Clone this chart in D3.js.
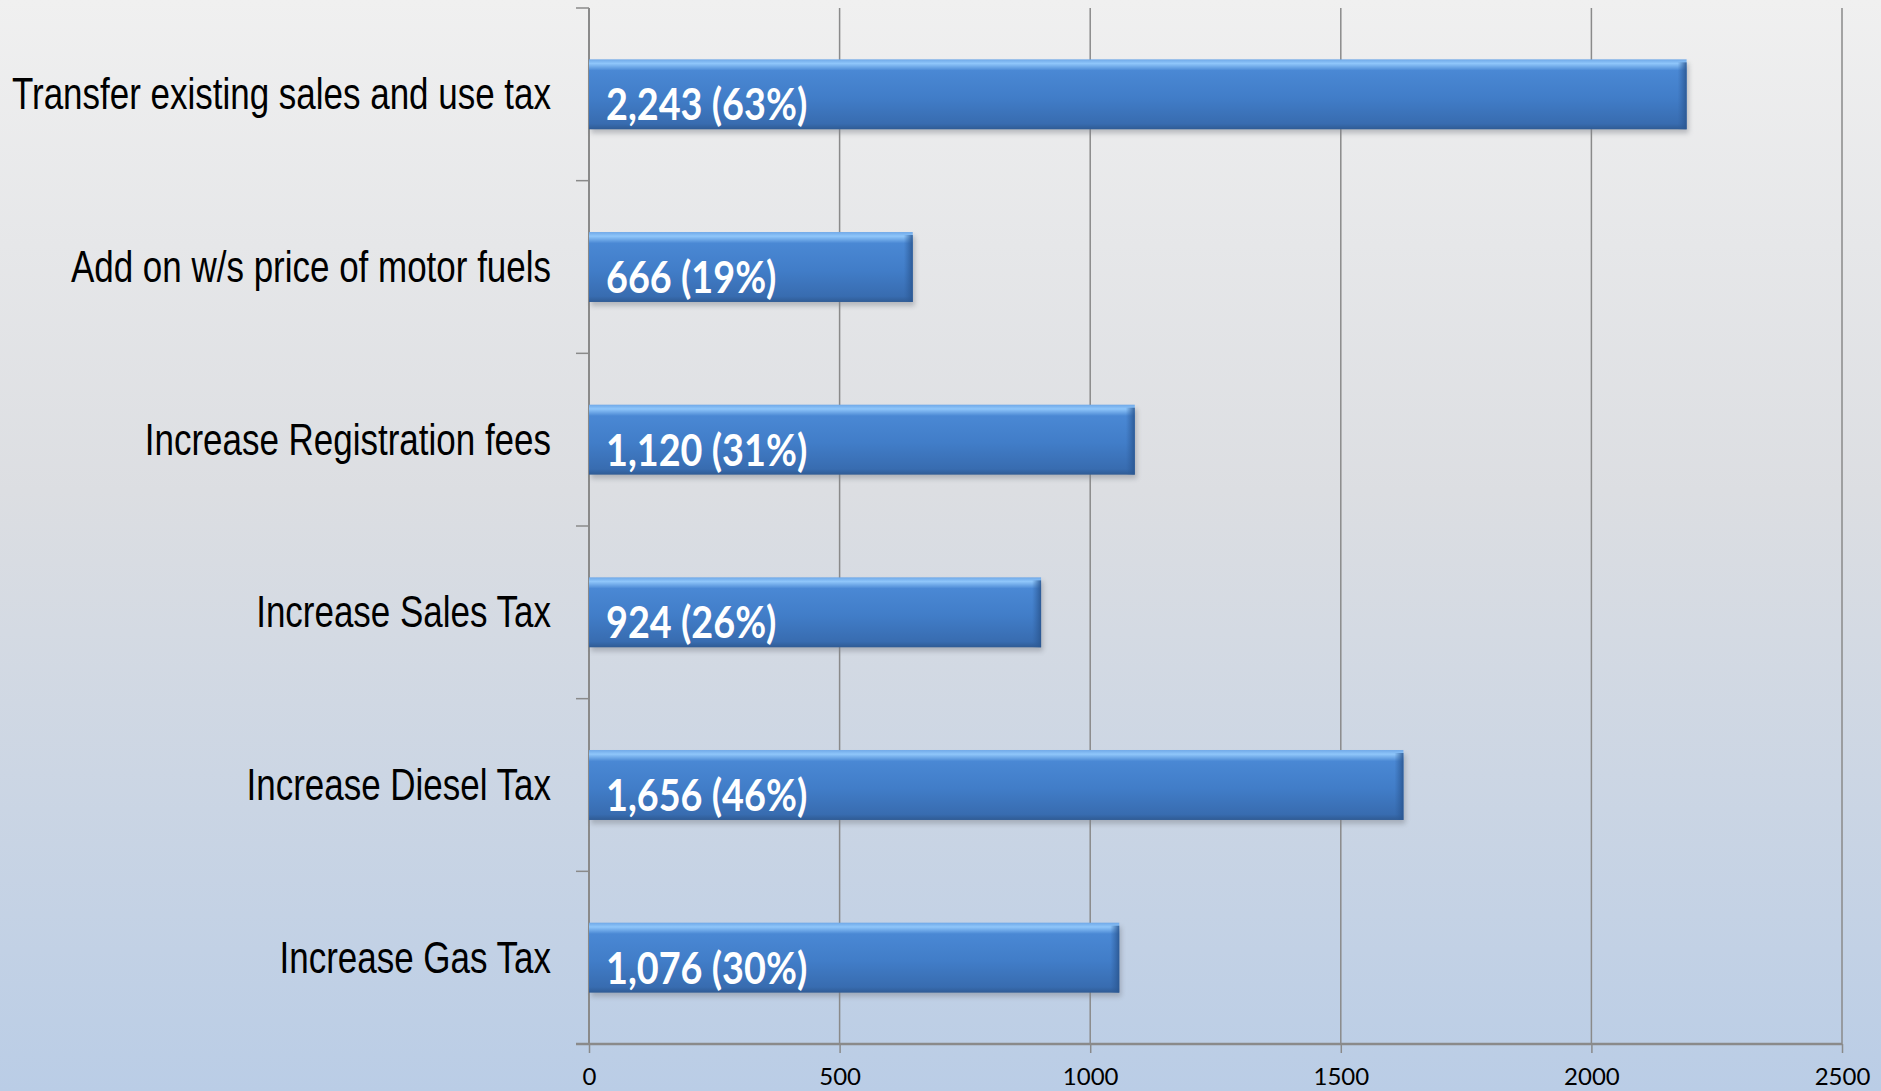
<!DOCTYPE html>
<html>
<head>
<meta charset="utf-8">
<script src="https://cdn.jsdelivr.net/npm/d3@7"></script>
<style>
  html, body { margin: 0; padding: 0; overflow: hidden; }
  svg { display: block; }
</style>
</head>
<body>
<svg id="chart" width="1881" height="1091"></svg>
<script>
// data
const categories = [
  'Transfer existing sales and use tax',
  'Add on w/s price of motor fuels',
  'Increase Registration fees',
  'Increase Sales Tax',
  'Increase Diesel Tax',
  'Increase Gas Tax'
];
const barValues = [2190, 646, 1089, 902, 1625, 1058];
const barLabels = ['2,243 (63%)', '666 (19%)', '1,120 (31%)', '924 (26%)', '1,656 (46%)', '1,076 (30%)'];
const xTicks = [0, 500, 1000, 1500, 2000, 2500];

const W = 1881, H = 1091;
const svg = d3.select('#chart');
const defs = svg.append('defs');

// background
const bg = defs.append('linearGradient').attr('id', 'bg').attr('x1', 0).attr('y1', 0).attr('x2', 0).attr('y2', 1);
bg.append('stop').attr('offset', '0%').attr('stop-color', '#f0f0f0');
bg.append('stop').attr('offset', '45%').attr('stop-color', '#dcdee2');
bg.append('stop').attr('offset', '100%').attr('stop-color', '#bacde6');
svg.append('rect').attr('width', W).attr('height', H).attr('fill', 'url(#bg)');

// bar body gradient
const bar = defs.append('linearGradient').attr('id', 'bar').attr('x1', 0).attr('y1', 0).attr('x2', 0).attr('y2', 1);
bar.append('stop').attr('offset', '0%').attr('stop-color', '#6fa8e8');
bar.append('stop').attr('offset', '6%').attr('stop-color', '#8fc6fa');
bar.append('stop').attr('offset', '16%').attr('stop-color', '#4a88d4');
bar.append('stop').attr('offset', '55%').attr('stop-color', '#417dc8');
bar.append('stop').attr('offset', '92%').attr('stop-color', '#386cb0');
bar.append('stop').attr('offset', '100%').attr('stop-color', '#2f5b94');

const endG = defs.append('linearGradient').attr('id', 'barEnd').attr('x1', 0).attr('y1', 0).attr('x2', 1).attr('y2', 0);
endG.append('stop').attr('offset', '0%').attr('stop-color', '#2f5f9e').attr('stop-opacity', 0);
endG.append('stop').attr('offset', '100%').attr('stop-color', '#2a5690').attr('stop-opacity', 0.9);

const blur = defs.append('filter').attr('id', 'shadow').attr('x', '-5%').attr('y', '-20%').attr('width', '110%').attr('height', '140%');
blur.append('feGaussianBlur').attr('stdDeviation', 2.5);

const margin = {top: 8, bottom: 47, left: 589, right: 39};

const x = d3.scaleLinear()
  .domain([0, 2500])
  .range([margin.left, W - margin.right]);

const y = d3.scaleBand()
  .domain(categories)
  .range([margin.top, H - margin.bottom])
  .paddingInner(0.595)
  .paddingOuter(0.2975);

const axisColor = '#8a8a8a';

// vertical gridlines
svg.append('g')
  .selectAll('line')
  .data(xTicks.slice(1))
  .join('line')
  .attr('x1', d => x(d)).attr('x2', d => x(d))
  .attr('y1', margin.top).attr('y2', H - margin.bottom)
  .attr('stroke', axisColor).attr('stroke-width', 1.5);

// bottom axis
const xAxis = svg.append('g')
  .attr('transform', `translate(0,${H - margin.bottom})`)
  .call(d3.axisBottom(x).tickValues(xTicks).tickSize(9).tickPadding(15).tickFormat(d3.format('d')));
xAxis.select('.domain').attr('stroke', axisColor).attr('stroke-width', 2.5)
  .attr('d', `M${x(0) - 13},0H${x(2500)}`);
xAxis.selectAll('.tick line').attr('stroke', axisColor).attr('stroke-width', 1.5);
xAxis.selectAll('.tick text')
  .attr('fill', '#000')
  .style('font-family', 'Lato, "Open Sans", sans-serif')
  .style('font-size', '24px');

// left axis with category ticks between bands
const leftAxis = svg.append('g');
leftAxis.append('line')
  .attr('x1', x(0)).attr('x2', x(0))
  .attr('y1', margin.top).attr('y2', H - margin.bottom)
  .attr('stroke', axisColor).attr('stroke-width', 2);
const step = y.step();
leftAxis.selectAll('.ytick')
  .data(d3.range(categories.length))
  .join('line')
  .attr('class', 'ytick')
  .attr('x1', x(0) - 13).attr('x2', x(0))
  .attr('y1', i => margin.top + i * step).attr('y2', i => margin.top + i * step)
  .attr('stroke', axisColor).attr('stroke-width', 1.5);

// category labels
svg.append('g')
  .selectAll('text')
  .data(categories)
  .join('text')
  .attr('transform', d => `translate(551,${y(d) + y.bandwidth() / 2 + 15}) scale(0.795,1)`)
  .attr('text-anchor', 'end')
  .style('font-family', '"Liberation Sans Narrow", "Arial Narrow", sans-serif')
  .style('font-size', '44px')
  .attr('fill', '#000')
  .text(d => d);

// bars
const bars = svg.append('g')
  .selectAll('g')
  .data(categories)
  .join('g');

bars.append('rect')
  .attr('x', x(0) + 2)
  .attr('y', d => y(d) + 4)
  .attr('width', (d, i) => x(barValues[i]) - x(0))
  .attr('height', y.bandwidth())
  .attr('fill', '#7a7f88')
  .attr('opacity', 0.45)
  .attr('filter', 'url(#shadow)');

bars.append('rect')
  .attr('x', x(0))
  .attr('y', d => y(d))
  .attr('width', (d, i) => x(barValues[i]) - x(0))
  .attr('height', y.bandwidth())
  .attr('fill', 'url(#bar)');

bars.append('rect')
  .attr('x', (d, i) => x(barValues[i]) - 9)
  .attr('y', d => y(d) + 3)
  .attr('width', 9)
  .attr('height', y.bandwidth() - 3)
  .attr('fill', 'url(#barEnd)');

bars.append('text')
  .attr('transform', d => `translate(${x(0) + 17},${y(d) + y.bandwidth() - 9}) scale(0.9,1.05)`)
  .style('font-family', 'Lato, "Open Sans", sans-serif')
  .style('font-weight', 'bold')
  .style('font-size', '42px')
  .attr('fill', '#fff')
  .text((d, i) => barLabels[i]);
</script>
</body>
</html>
